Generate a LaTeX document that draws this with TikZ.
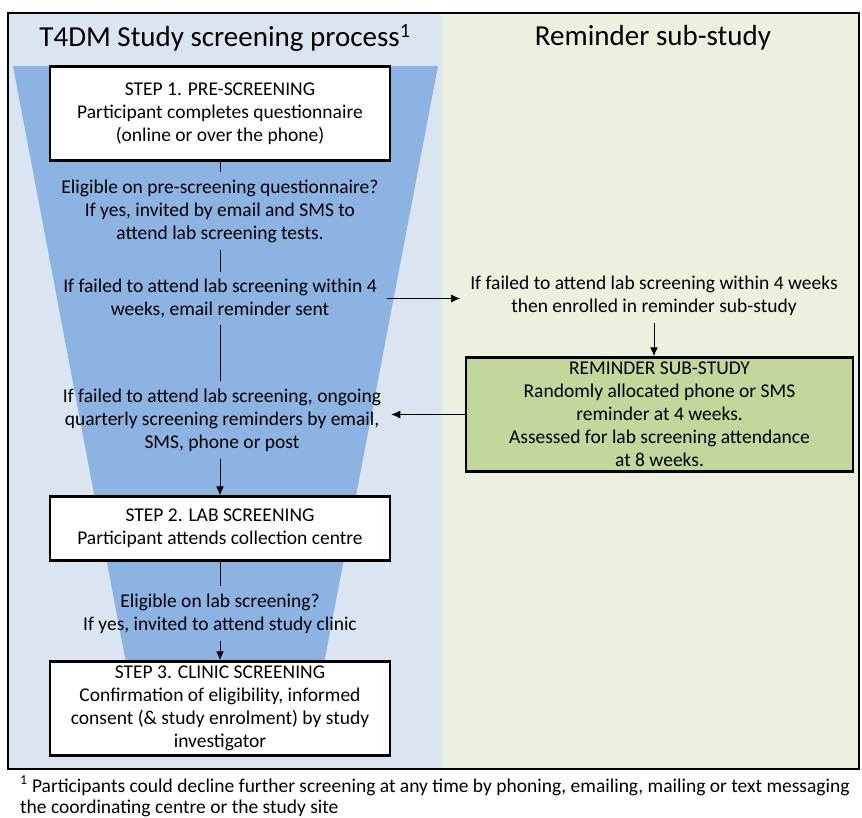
\documentclass[tikz,border=0pt]{standalone}
\usepackage{fontspec}
\setmainfont{Carlito}
\usetikzlibrary{arrows.meta}

\definecolor{leftbg}{HTML}{DBE5F1}
\definecolor{rightbg}{HTML}{EBF1DE}
\definecolor{funnelblue}{HTML}{8DB3E2}
\definecolor{subgreen}{HTML}{C3D69B}

\tikzset{
  stepbox/.style={draw, line width=2.5pt, fill=white, minimum width=340pt, inner ysep=1pt, align=center, font=\fontsize{19.5}{23}\selectfont},
  subbox/.style={stepbox, fill=subgreen, minimum width=387pt},
  note/.style={align=center, inner xsep=10pt, inner ysep=2pt, font=\fontsize{19.5}{23}\selectfont},
  heading/.style={font=\fontsize{29}{35}\selectfont},
  link/.style={line width=1pt, shorten <=5pt, shorten >=5pt},
  >={Latex[length=9pt,width=8pt]}
}

\begin{document}
\begin{tikzpicture}[x=1pt,y=-1pt]
\useasboundingbox (0,0) rectangle (862,817);

\fill[leftbg] (8,13) rectangle (442,769);
\fill[rightbg] (442,13) rectangle (859,769);
\fill[funnelblue] (13,66) -- (438,66) -- (317,700) -- (133,700) -- cycle;
\draw[line width=2.5pt] (8,13) rectangle (859,769);

\node[heading] (title) at (225,38) {T4DM Study screening process\textsuperscript{1}};
\node[heading] (subtitle) at (653,38) {Reminder sub-study};

\node[stepbox, minimum height=94pt] (s1) at (220,113.5) {STEP 1. PRE-SCREENING\\Participant completes questionnaire\\(online or over the phone)};
\node[note] (t1) at (220,211) {Eligible on pre-screening questionnaire?\\If yes, invited by email and SMS to\\attend lab screening tests.};
\node[note] (t2) at (220,298.5) {If failed to attend lab screening within 4\\weeks, email reminder sent};
\node[note] (t3) at (222,420) {If failed to attend lab screening, ongoing\\quarterly screening reminders by email,\\SMS, phone or post};
\node[stepbox, minimum height=64pt] (s2) at (220,528.5) {STEP 2. LAB SCREENING\\Participant attends collection centre};
\node[note] (t4) at (220,613.5) {Eligible on lab screening?\\If yes, invited to attend study clinic};
\node[stepbox, minimum height=94pt] (s3) at (220,708.5) {STEP 3. CLINIC SCREENING\\Confirmation of eligibility, informed\\consent (\& study enrolment) by study\\investigator};

\node[note] (rnote) at (654,296) {If failed to attend lab screening within 4 weeks\\then enrolled in reminder sub-study};
\node[subbox, minimum height=114pt] (rem) at (659.5,414.5) {REMINDER SUB-STUDY\\Randomly allocated phone or SMS\\reminder at 4 weeks.\\Assessed for lab screening attendance\\at 8 weeks.};

\draw[link, shorten <=0pt] (s1.south) -- (t1.north);
\draw[link] (t1.south) -- (t2.north);
\draw[link] (t2.south) -- (t2.south |- t3.north);
\draw[link, shorten <=0pt, shorten >=0pt, ->] (t2.east) -- (t2.east -| rnote.west);
\draw[link, shorten >=0pt, ->] (rnote.south) -- (rnote.south |- rem.north);
\draw[link, shorten <=0pt, shorten >=0pt, ->] (rem.west) -- (rem.west -| t3.east);
\draw[link, shorten >=0pt, ->] (t2.south |- t3.south) -- (s2.north);
\draw[link, shorten <=0pt] (s2.south) -- (t4.north);
\draw[link, shorten >=0pt, ->] (t4.south) -- (s3.north);

\node[anchor=north west, align=left, inner sep=0pt, font=\fontsize{19.5}{21}\selectfont] (foot) at (20,776) {\textsuperscript{1} Participants could decline further screening at any time by phoning, emailing, mailing or text messaging\\the coordinating centre or the study site};
\end{tikzpicture}
\end{document}
